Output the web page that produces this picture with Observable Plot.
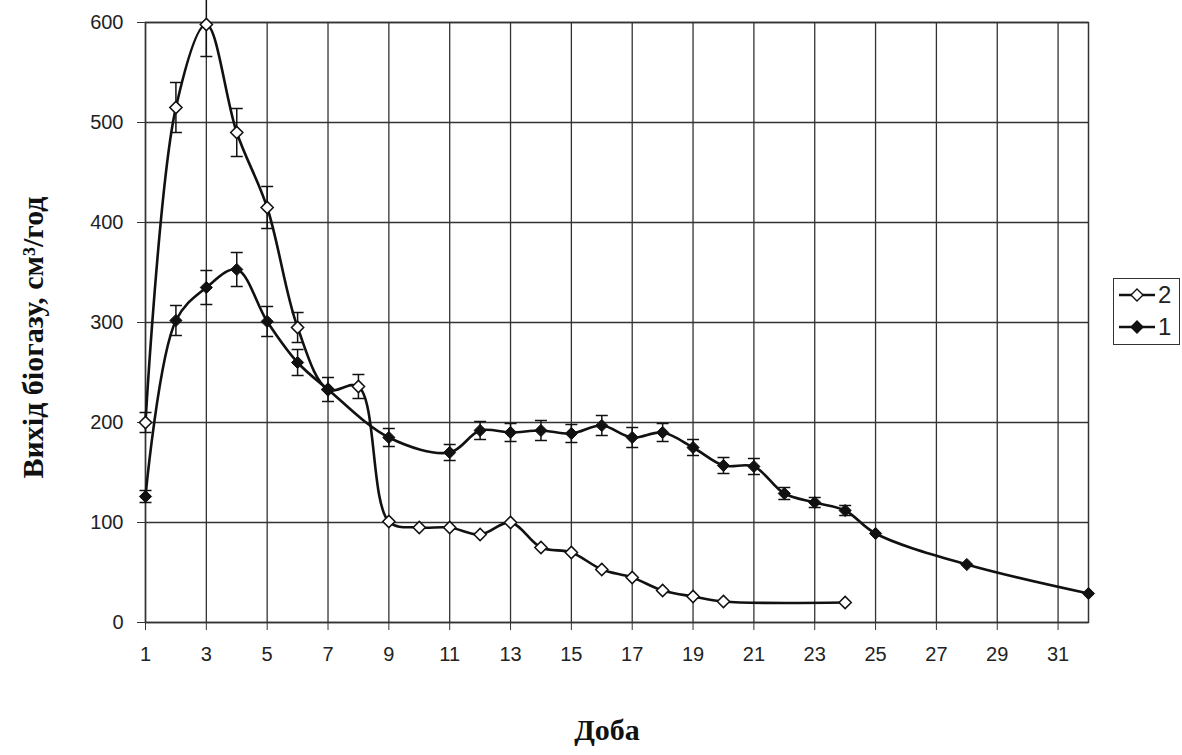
<!DOCTYPE html>
<html>
<head>
<meta charset="utf-8">
<script src="https://cdn.jsdelivr.net/npm/d3@7"></script>
<script src="https://cdn.jsdelivr.net/npm/@observablehq/plot@0.6"></script>
<style>
  html, body { margin: 0; padding: 0; background: #ffffff; }
  #wrap { position: relative; width: 1182px; height: 755px; }
  #legend {
    position: absolute; left: 1113px; top: 278px; width: 65px; height: 65px;
    border: 1.5px solid #333; background: #fff;
    font-family: "Liberation Sans", Arial, sans-serif; font-size: 24px; color: #222;
  }
  #legend .row { display: flex; align-items: center; height: 32px; padding-left: 3px; }
  #legend .row span { margin-left: 1px; line-height: 1; }
</style>
</head>
<body>
<div id="wrap"></div>
<script>
// X axis: day ("Доба"), tick labels
const xTicks = [1, 3, 5, 7, 9, 11, 13, 15, 17, 19, 21, 23, 25, 27, 29, 31];
const yTicks = [0, 100, 200, 300, 400, 500, 600];

// Series 2 (open diamonds)
const days2 = [1, 2, 3, 4, 5, 6, 7, 8, 9, 10, 11, 12, 13, 14, 15, 16, 17, 18, 19, 20, 24];
const vals2 = [200, 515, 598, 490, 415, 295, 233, 236, 101, 95, 95, 88, 100, 75, 70, 53, 45, 32, 26, 21, 20];
const err2  = [10, 25, 32, 24, 21, 15, 0, 12, 0, 0, 0, 0, 0, 0, 0, 0, 0, 0, 0, 0, 0];

// Series 1 (filled diamonds)
const days1 = [1, 2, 3, 4, 5, 6, 7, 9, 11, 12, 13, 14, 15, 16, 17, 18, 19, 20, 21, 22, 23, 24, 25, 28, 32];
const vals1 = [126, 302, 335, 353, 301, 260, 233, 185, 170, 192, 190, 192, 189, 197, 185, 190, 175, 157, 156, 129, 120, 112, 89, 58, 29];
const err1  = [6, 15, 17, 17, 15, 13, 12, 9, 8, 9, 9, 10, 9, 10, 10, 9, 8, 8, 8, 6, 5, 5, 0, 0, 0];

const seriesNames = ["2", "1"];
const yLabel = "Вихід біогазу, см³/год";
const xLabel = "Доба";

const data2 = days2.map((d, i) => ({day: d, v: vals2[i], e: err2[i]}));
const data1 = days1.map((d, i) => ({day: d, v: vals1[i], e: err1[i]}));
const eb2 = data2.filter(d => d.e > 0);
const eb1 = data1.filter(d => d.e > 0);

const ink = "#111";
const capSymbol = {
  draw(ctx, size) {
    const r = Math.sqrt(size / Math.PI);
    ctx.moveTo(-r, 0);
    ctx.lineTo(r, 0);
  }
};

function errorMarks(rows) {
  return [
    Plot.ruleX(rows, {x: "day", y1: d => d.v - d.e, y2: d => d.v + d.e, stroke: ink, strokeWidth: 1.5}),
    Plot.dot(rows, {x: "day", y: d => d.v + d.e, symbol: capSymbol, r: 6, stroke: ink, strokeWidth: 1.5}),
    Plot.dot(rows, {x: "day", y: d => d.v - d.e, symbol: capSymbol, r: 6, stroke: ink, strokeWidth: 1.5})
  ];
}

const chart = Plot.plot({
  width: 1182,
  height: 755,
  marginLeft: 145,
  marginRight: 94,
  marginTop: 22,
  marginBottom: 133,
  style: {fontFamily: "'Liberation Sans', Arial, sans-serif", fontSize: "20px", color: "#222", background: "transparent"},
  x: {domain: [1, 32]},
  y: {domain: [0, 600]},
  marks: [
    Plot.gridX(xTicks, {stroke: "#333", strokeOpacity: 1, strokeWidth: 1.3}),
    Plot.gridY(yTicks, {stroke: "#333", strokeOpacity: 1, strokeWidth: 1.3}),
    Plot.frame({stroke: "#333", strokeWidth: 1.5}),
    Plot.axisX({ticks: xTicks, tickSize: 8, tickPadding: 16, fontSize: 20, label: null, stroke: "#333"}),
    Plot.axisY({ticks: yTicks, tickSize: 8, tickPadding: 14, fontSize: 20, label: null, stroke: "#333"}),
    // series 2
    ...errorMarks(eb2),
    Plot.line(data2, {x: "day", y: "v", curve: "catmull-rom", stroke: ink, strokeWidth: 2.6}),
    Plot.dot(data2, {x: "day", y: "v", symbol: "diamond2", r: 5.5, fill: "white", stroke: ink, strokeWidth: 1.5}),
    // series 1
    ...errorMarks(eb1),
    Plot.line(data1, {x: "day", y: "v", curve: "catmull-rom", stroke: ink, strokeWidth: 2.6}),
    Plot.dot(data1, {x: "day", y: "v", symbol: "diamond2", r: 5.5, fill: ink, stroke: ink, strokeWidth: 1}),
    // axis titles
    Plot.text([yLabel], {frameAnchor: "left", textAnchor: "middle", lineAnchor: "middle", dx: -112, dy: 15, rotate: -90, fontSize: 30, fontWeight: "bold", fontFamily: "'Liberation Serif', 'Times New Roman', serif", fill: "#111"}),
    Plot.text([xLabel], {frameAnchor: "bottom", textAnchor: "middle", dx: -10, dy: 108, lineAnchor: "middle", fontSize: 30, fontWeight: "bold", fontFamily: "'Liberation Serif', 'Times New Roman', serif", fill: "#111"})
  ]
});

const wrap = document.getElementById("wrap");
wrap.appendChild(chart);

// Legend
const legend = document.createElement("div");
legend.id = "legend";
seriesNames.forEach((name, i) => {
  const row = document.createElement("div");
  row.className = "row";
  const filled = name === "1";
  row.innerHTML =
    `<svg width="40" height="16" viewBox="0 0 40 16">
       <line x1="2" y1="8" x2="38" y2="8" stroke="${ink}" stroke-width="2.4"/>
       <path d="M20 2 L26 8 L20 14 L14 8 Z" fill="${filled ? ink : "white"}" stroke="${ink}" stroke-width="1.4"/>
     </svg><span>${name}</span>`;
  legend.appendChild(row);
});
wrap.appendChild(legend);
</script>
</body>
</html>
